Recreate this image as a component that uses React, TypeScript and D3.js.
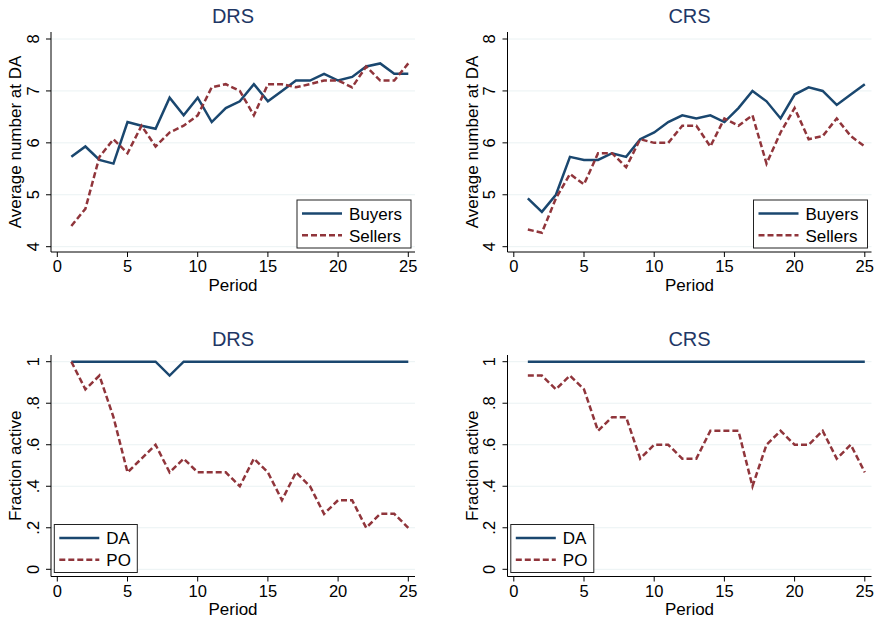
import { useEffect } from "react";
import * as d3 from "d3";

const periods = [
  1, 2, 3, 4, 5, 6, 7, 8, 9, 10, 11, 12, 13, 14, 15, 16, 17, 18, 19, 20, 21, 22, 23, 24, 25,
];

// average number at DA, DRS treatment
const drsBuyers = [
  5.73, 5.93, 5.67, 5.6, 6.4, 6.33, 6.27, 6.87, 6.53, 6.87, 6.4, 6.67, 6.8, 7.13, 6.8, 7.0, 7.2,
  7.2, 7.33, 7.2, 7.27, 7.47, 7.53, 7.33, 7.33,
];
const drsSellers = [
  4.4, 4.73, 5.73, 6.07, 5.8, 6.33, 5.93, 6.2, 6.33, 6.53, 7.07, 7.13, 7.0, 6.53, 7.13, 7.13, 7.07,
  7.13, 7.2, 7.2, 7.07, 7.47, 7.2, 7.2, 7.53,
];
// average number at DA, CRS treatment
const crsBuyers = [
  4.93, 4.67, 5.0, 5.73, 5.67, 5.67, 5.8, 5.73, 6.07, 6.2, 6.4, 6.53, 6.47, 6.53, 6.4, 6.67, 7.0,
  6.8, 6.47, 6.93, 7.07, 7.0, 6.73, 6.93, 7.13,
];
const crsSellers = [
  4.33, 4.27, 4.93, 5.4, 5.2, 5.8, 5.8, 5.53, 6.07, 6.0, 6.0, 6.33, 6.33, 5.93, 6.47, 6.33, 6.53,
  5.6, 6.2, 6.67, 6.07, 6.13, 6.47, 6.13, 5.93,
];
// fraction active
const drsDA = [
  1, 1, 1, 1, 1, 1, 1, 0.933, 1, 1, 1, 1, 1, 1, 1, 1, 1, 1, 1, 1, 1, 1, 1, 1, 1,
];
const drsPO = [
  1, 0.867, 0.933, 0.733, 0.467, 0.533, 0.6, 0.467, 0.533, 0.467, 0.467, 0.467, 0.4, 0.533, 0.467,
  0.333, 0.467, 0.4, 0.267, 0.333, 0.333, 0.2, 0.267, 0.267, 0.2,
];
const crsDA = [
  1, 1, 1, 1, 1, 1, 1, 1, 1, 1, 1, 1, 1, 1, 1, 1, 1, 1, 1, 1, 1, 1, 1, 1, 1,
];
const crsPO = [
  0.933, 0.933, 0.867, 0.933, 0.867, 0.667, 0.733, 0.733, 0.533, 0.6, 0.6, 0.533, 0.533, 0.667,
  0.667, 0.667, 0.4, 0.6, 0.667, 0.6, 0.6, 0.667, 0.533, 0.6, 0.467,
];

const xTicks = [0, 5, 10, 15, 20, 25];
const topYTicks = [4, 5, 6, 7, 8];
const bottomYTicks = [0, 0.2, 0.4, 0.6, 0.8, 1];

const NAVY = "#1a476f";
const MAROON = "#90353b";
const GRID = "#eaf2f3";
const FONT = "'Liberation Sans', Arial, Helvetica, sans-serif";

interface PanelProps {
  left: number; // y axis position
  top: number;
  bottom: number;
  title: string;
  yLabel: string;
  yDomain: [number, number];
  yRange: [number, number];
  yTicks: number[];
  fmt: (v: number) => string;
  solid: number[];
  dashed: number[];
  names: [string, string];
  legendRight: boolean;
  legendW: number;
}

function Panel(p: PanelProps) {
  const right = p.left + 364;
  const x = d3.scaleLinear().domain([0, 25]).range([p.left + 6.3, p.left + 357.3]);
  const y = d3.scaleLinear().domain(p.yDomain).range(p.yRange);
  const line = d3
    .line<number>()
    .x((_, i) => x(periods[i]))
    .y((d) => y(d));
  const cx = (p.left + right) / 2;
  const cy = (p.top + p.bottom) / 2;

  const lw = p.legendW;
  const lh = 48;
  const lx = p.legendRight ? right - 4 - lw : p.left + 3.3;
  const ly = p.bottom - 4 - lh;

  return (
    <g fontFamily={FONT}>
      <text x={cx} y={p.top - 9} textAnchor="middle" fontSize={20} fill="#1e3765">
        {p.title}
      </text>
      {p.yTicks.map((t) => (
        <line key={"g" + t} x1={p.left} x2={right} y1={y(t)} y2={y(t)} stroke={GRID} strokeWidth={1} />
      ))}
      <line x1={p.left} x2={p.left} y1={p.top} y2={p.bottom} stroke="#000" strokeWidth={1} />
      <line x1={p.left} x2={right} y1={p.bottom} y2={p.bottom} stroke="#000" strokeWidth={1} />
      {p.yTicks.map((t) => (
        <g key={"y" + t}>
          <line x1={p.left - 5} x2={p.left} y1={y(t)} y2={y(t)} stroke="#000" strokeWidth={1} />
          <text
            transform={`translate(${p.left - 12.5},${y(t)}) rotate(-90)`}
            textAnchor="middle"
            fontSize={16.5}
            fill="#000"
          >
            {p.fmt(t)}
          </text>
        </g>
      ))}
      {xTicks.map((t) => (
        <g key={"x" + t}>
          <line x1={x(t)} x2={x(t)} y1={p.bottom} y2={p.bottom + 5} stroke="#000" strokeWidth={1} />
          <text x={x(t)} y={p.bottom + 20} textAnchor="middle" fontSize={16.5} fill="#000">
            {t}
          </text>
        </g>
      ))}
      <text x={cx} y={p.bottom + 38.5} textAnchor="middle" fontSize={17} fill="#000">
        Period
      </text>
      <text
        transform={`translate(${p.left - 30},${cy}) rotate(-90)`}
        textAnchor="middle"
        fontSize={17}
        fill="#000"
      >
        {p.yLabel}
      </text>
      <path d={line(p.solid) ?? ""} fill="none" stroke={NAVY} strokeWidth={2.5} strokeLinejoin="miter" />
      <path
        d={line(p.dashed) ?? ""}
        fill="none"
        stroke={MAROON}
        strokeWidth={2.5}
        strokeDasharray="6,3"
      />
      <rect x={lx} y={ly} width={lw} height={lh} fill="#fff" stroke="#222" strokeWidth={1} />
      <line x1={lx + 5} x2={lx + 45} y1={ly + 13.5} y2={ly + 13.5} stroke={NAVY} strokeWidth={2.5} />
      <line
        x1={lx + 5}
        x2={lx + 45}
        y1={ly + 35.3}
        y2={ly + 35.3}
        stroke={MAROON}
        strokeWidth={2.5}
        strokeDasharray="6,3"
      />
      <text x={lx + 52} y={ly + 19.5} fontSize={17} fill="#000">
        {p.names[0]}
      </text>
      <text x={lx + 52} y={ly + 41.5} fontSize={17} fill="#000">
        {p.names[1]}
      </text>
    </g>
  );
}

const fmtTop = (v: number) => String(v);
const fmtBottom = (v: number) => (v === 0 || v === 1 ? String(v) : String(v).replace(/^0/, ""));

export default function App() {
  useEffect(() => {
    document.body.style.margin = "0";
  }, []);
  const topCfg = {
    top: 32,
    bottom: 252,
    yLabel: "Average number at DA",
    yDomain: [4, 8] as [number, number],
    yRange: [246.7, 39] as [number, number],
    yTicks: topYTicks,
    fmt: fmtTop,
    names: ["Buyers", "Sellers"] as [string, string],
    legendRight: true,
    legendW: 114,
  };
  const botCfg = {
    top: 355,
    bottom: 576.5,
    yLabel: "Fraction active",
    yDomain: [0, 1] as [number, number],
    yRange: [569.3, 361.7] as [number, number],
    yTicks: bottomYTicks,
    fmt: fmtBottom,
    names: ["DA", "PO"] as [string, string],
    legendRight: false,
    legendW: 83,
  };
  return (
    <svg
      width={878}
      height={619}
      style={{ display: "block", background: "#fff" }}
      xmlns="http://www.w3.org/2000/svg"
    >
      <rect width={878} height={619} fill="#fff" />
      <Panel {...topCfg} left={51} title="DRS" solid={drsBuyers} dashed={drsSellers} />
      <Panel {...topCfg} left={507.5} title="CRS" solid={crsBuyers} dashed={crsSellers} />
      <Panel {...botCfg} left={51} title="DRS" solid={drsDA} dashed={drsPO} />
      <Panel {...botCfg} left={507.5} title="CRS" solid={crsDA} dashed={crsPO} />
    </svg>
  );
}
